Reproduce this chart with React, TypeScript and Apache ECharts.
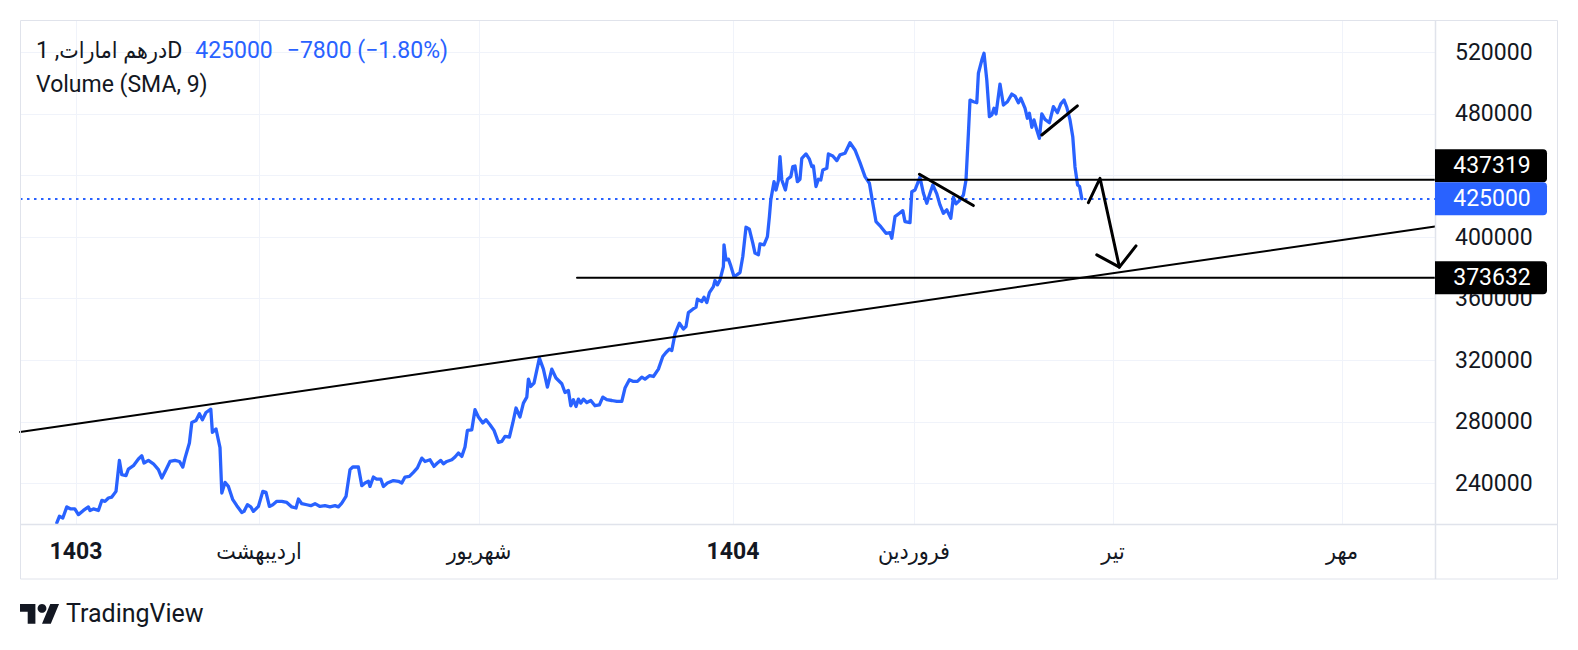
import React, { useEffect, useRef } from "react";
import * as echarts from "echarts";

const FONT = 'Roboto, "DejaVu Sans Condensed", "DejaVu Sans", sans-serif';
const TEXT = "#131722";
const BLUE = "#2962FF";
const BORDER = "#e0e3eb";
const GRID = "#f0f3fa";

const symbolTitle = "درهم امارات, 1D";
const indicatorTitle = "Volume (SMA, 9)";
const lastPrice = 425000;
const priceChange = -7800;
const priceChangePct = -1.8;

const yTicks = [240000, 280000, 320000, 360000, 400000, 440000, 480000, 520000];
const yMin = 213700;
const yMax = 541000;
const xMin = 0;
const xMax = 707.5;
const xTickBars = [28, 119.5, 229.5, 356.5, 447, 546.5, 661];
const xTickLabels = ["1403", "اردیبهشت", "شهریور", "1404", "فروردین", "تیر", "مهر"];
const yearLabels = ["1403", "1404"];

// [bar index, price]
const priceSeries: [number, number][] = [
  [18.4, 214400], [19.7, 218700], [21.4, 217600], [23.4, 224800], [25.4, 223500], [27.4, 223500], [29.2, 219800], [31.7, 222500],
  [34.2, 224800], [35, 222500], [36.7, 223500], [39.2, 222500], [40.9, 229000], [42.5, 228400], [44.2, 230600], [45.9, 231200],
  [48, 234900], [49.7, 255000], [50.9, 245700], [53, 245100], [54.2, 249400], [56.7, 251600], [59.2, 255900], [60.9, 258000],
  [62, 253300], [64.2, 255000], [66.7, 252800], [69.2, 249000], [70.9, 243600], [73, 249000], [75, 254300], [77.5, 255000],
  [79.7, 254300], [81.4, 250700], [82.5, 256500], [84.7, 266300], [85.9, 279600], [88, 280900], [89.7, 285300], [91.2, 281400],
  [93, 286100], [95.4, 288300], [96.2, 273200], [98, 275400], [100, 263300], [100.9, 233800], [102.5, 240700], [104.2, 238100],
  [106.4, 229500], [108.4, 225600], [110.9, 221200], [112, 221900], [113.7, 226200], [115.4, 224800], [116.7, 221900], [119.2, 225100],
  [121.4, 234900], [123, 234200], [124.7, 225100], [126.4, 226200], [128.4, 228400], [130.9, 228400], [133.4, 227700], [135.9, 224800],
  [138, 224100], [139.2, 229900], [140.9, 226900], [143.4, 226200], [145.4, 225600], [147.5, 226900], [150, 225100], [152.5, 225600],
  [155, 224800], [157.5, 225600], [159.2, 224800], [160.9, 227300], [163, 231600], [165, 249000], [166.4, 250700], [169.2, 250700],
  [170.9, 238600], [172.5, 240300], [174.2, 241400], [175, 238100], [176.7, 244200], [178.3, 242900], [180.4, 242900], [181.7, 238100],
  [183.7, 240300], [186.7, 241900], [189.2, 241400], [190.9, 240300], [192.5, 244200], [194.7, 244600], [196.7, 247200], [198.7, 250100],
  [200.9, 256500], [202.5, 254300], [205, 255400], [207, 251100], [208.7, 253300], [210.4, 255000], [211.7, 252800], [213.4, 254300],
  [215.9, 255400], [217.5, 257200], [219.2, 259800], [220.9, 257600], [222.5, 263700], [223.7, 274500], [225.9, 274900], [227.5, 287900],
  [229.2, 283200], [231.4, 279300], [233, 281400], [235, 278200], [237, 274500], [239.2, 266700], [240.9, 267300], [242.5, 270600],
  [244.7, 270200], [246.4, 279300], [248, 289000], [250, 283200], [251.7, 292200], [253.4, 296100], [254.2, 307800], [255.4, 303000],
  [257, 305200], [259.7, 321400], [261.7, 314300], [263.7, 302600], [265.9, 314300], [268, 308500], [270.9, 304800], [272.5, 299100],
  [274.2, 300400], [275.4, 290500], [276.7, 294400], [278, 290000], [279.2, 294800], [280.4, 292200], [281.7, 294800], [283.4, 292600],
  [285.4, 293900], [287.5, 290500], [289.7, 291100], [291.4, 296100], [293.4, 294400], [295.9, 293900], [298.4, 293300], [300.9, 293300],
  [302.5, 302000], [304.7, 307400], [306.7, 306300], [308.7, 306300], [310.9, 309100], [312.5, 307800], [314.7, 310000], [316.7, 309500],
  [319.2, 314300], [321.4, 322500], [323, 325100], [324.7, 327300], [325.9, 326400], [327.5, 337200], [329.7, 344100], [331.7, 340300],
  [333, 341900], [334.2, 351000], [336.4, 353200], [338, 354500], [338.7, 359700], [340.9, 358200], [342, 361000], [343.4, 357500],
  [344.7, 364000], [346.7, 367900], [347.5, 371800], [348.7, 369000], [350, 372200], [351.7, 380900], [352, 395000], [353, 385200],
  [354.2, 385700], [355.4, 381300], [357, 374400], [358.4, 375500], [360, 377000], [361.4, 387400], [363, 406400], [364.7, 405100],
  [366.4, 396100], [367.5, 389600], [369.2, 388500], [370, 395600], [372, 395000], [373.7, 400300], [374.7, 413300], [375.4, 424200],
  [377, 436000], [378, 430600], [379.2, 436700], [380, 452300], [380.9, 437100], [382.7, 430600], [383.7, 437600], [385.4, 439300],
  [386.4, 445800], [387.5, 446200], [388.7, 436000], [390, 437600], [390.9, 451200], [393, 454000], [394.7, 450600], [395.9, 445800],
  [396.7, 446200], [398, 432800], [399.2, 437600], [400.4, 437100], [401.4, 443600], [403.4, 444700], [404.2, 454000], [406.4, 452700],
  [408.4, 449700], [410, 453400], [412.5, 454500], [415, 461300], [417.5, 456600], [420, 448400], [422.5, 439300], [424.7, 435000],
  [426.4, 422000], [428, 410100], [430.4, 406800], [433, 402500], [435, 402900], [435.9, 399300], [437.5, 413300], [439.7, 415500],
  [441.4, 417200], [442.5, 410100], [445, 409400], [445.9, 429500], [447.5, 430600], [450, 438900], [451.7, 428500], [453.4, 422000],
  [455, 428500], [456.4, 433900], [458.4, 428100], [460, 420900], [461.7, 415500], [463.4, 417700], [465.4, 412300], [466.7, 425900],
  [468, 421600], [469.7, 423700], [471.7, 427400], [473, 437100], [474.2, 467400], [475, 489000], [476.7, 487900], [478.4, 487300],
  [479.2, 506400], [480.9, 515000], [482, 519400], [483.4, 502000], [484.7, 478200], [485.9, 479300], [487, 483700], [488, 480000],
  [490, 499400], [491.7, 485800], [493.7, 487900], [495.9, 492900], [497.5, 491600], [499.2, 487300], [500.4, 490200], [502.5, 483700],
  [503.7, 477200], [504.7, 480400], [505.9, 471300], [507, 476100], [508.4, 469600], [509.7, 464200], [510.9, 480000], [512.5, 476500],
  [514.7, 474300], [516.7, 484700], [518.7, 480800], [520.4, 486500], [522, 489000], [523.4, 484300], [525, 476100], [526.4, 465000],
  [527.5, 445600], [528.8, 433900], [529.8, 432800], [530.9, 425000],
];

// drawings (bar index, price)
const trendLine: [number, number][] = [[0, 273500], [707.5, 406900]];
const levelHigh = 437319;
const levelHighFrom = 424;
const levelLow = 373632;
const levelLowFrom = 278.5;
const wedgeDown: [number, number][] = [[449.7, 440800], [476.7, 420500]];
const wedgeUp: [number, number][] = [[510.9, 466300], [528.7, 485200]];
const arrowShaft: [number, number][] = [[534.2, 422400], [540, 438200], [549.7, 380500]];
const arrowHead: [number, number][] = [[538.4, 388500], [549.7, 380500], [558, 394300]];

const TV_LOGO = "M14 22H7V11H0V4h14v18zM28 22h-8l7.5-18h8L28 22z";
echarts.graphic.registerShape("tvlogo", echarts.graphic.extendPath(TV_LOGO, {}) as any);

function drawing(data: [number, number][], width: number) {
  return {
    type: "line",
    data,
    showSymbol: false,
    symbol: "none",
    silent: true,
    z: 5,
    lineStyle: { color: "#000000", width, cap: "round", join: "round" },
  };
}

export default function App() {
  const ref = useRef<HTMLDivElement>(null);
  useEffect(() => {
    if (!ref.current) return;
    const chart = echarts.init(ref.current, null, { renderer: "svg" });
    const nearestLabel = (v: number) => {
      let best = 0;
      let bd = Infinity;
      xTickBars.forEach((b, i) => {
        const d = Math.abs(b - v);
        if (d < bd) { bd = d; best = i; }
      });
      return xTickLabels[best];
    };
    const yAxisLabel = (values: number[]) => ({
      customValues: values,
      hideOverlap: false,
      margin: 20,
      fontSize: 23,
      color: TEXT,
      fontFamily: FONT,
      formatter: (v: number) => String(v),
    });
    chart.setOption({
      animation: false,
      grid: { left: 20, top: 20, width: 1415, height: 504, show: false },
      xAxis: {
        type: "value",
        min: xMin,
        max: xMax,
        axisLine: { show: false },
        axisTick: { show: false, customValues: xTickBars },
        splitLine: { show: true, lineStyle: { color: GRID, width: 1 } },
        axisLabel: {
          customValues: xTickBars,
          hideOverlap: false,
          margin: 16,
          formatter: (v: number) => {
            const t = nearestLabel(v);
            return yearLabels.includes(t) ? `{y|${t}}` : `{m|${t}}`;
          },
          rich: {
            y: { fontSize: 23, fontWeight: "bold", color: TEXT, fontFamily: FONT },
            m: { fontSize: 23, color: TEXT, fontFamily: FONT },
          },
        },
      },
      yAxis: {
        type: "value",
        position: "right",
        min: yMin,
        max: yMax,
        axisLine: { show: false },
        axisTick: { show: false, customValues: yTicks },
        splitLine: { show: true, lineStyle: { color: GRID, width: 1 } },
        axisLabel: yAxisLabel(yTicks),
      },
      series: [
        {
          type: "line",
          data: priceSeries,
          showSymbol: false,
          symbol: "none",
          silent: true,
          z: 3,
          lineStyle: { color: BLUE, width: 3.3, join: "round", cap: "round" },
          markLine: {
            silent: true,
            symbol: ["none", "none"],
            label: { show: false },
            lineStyle: { color: BLUE, width: 2, type: [2.5, 4.5] },
            data: [{ yAxis: lastPrice }],
          },
        },
        drawing(trendLine, 2),
        drawing([[levelHighFrom, levelHigh], [xMax, levelHigh]], 2),
        drawing([[levelLowFrom, levelLow], [xMax, levelLow]], 2),
        drawing(wedgeDown, 3),
        drawing(wedgeUp, 3),
        drawing(arrowShaft, 3),
        drawing(arrowHead, 3),
      ],
    });

    const toY = (v: number) => chart.convertToPixel({ yAxisIndex: 0 }, v) as number;
    const boxH = 33;
    const boxX = 1435;
    const boxW = 112;
    const yLast = toY(lastPrice);
    let yHigh = toY(levelHigh);
    if (yHigh + boxH / 2 > yLast - boxH / 2) yHigh = yLast - boxH;
    let yLow = toY(levelLow);
    if (yLow - boxH / 2 < yLast + boxH / 2) yLow = yLast + boxH;
    const boxCenters = [yHigh, yLast, yLow];
    // tick labels that sit fully behind a price box are not drawn (as in the reference)
    const visibleTicks = yTicks.filter((t) => {
      const ty = toY(t);
      return !boxCenters.some((c) => Math.abs(ty - c) < boxH / 2 - 3);
    });

    const priceBox = (cy: number, value: number, fill: string) => ({
      type: "group",
      z: 100,
      children: [
        {
          type: "rect",
          z: 100,
          shape: { x: boxX, y: cy - boxH / 2, width: boxW, height: boxH, r: [0, 4, 4, 0] },
          style: { fill },
        },
        {
          type: "text",
          z: 101,
          x: boxX + boxW / 2 + 1,
          y: cy,
          style: { text: String(value), fill: "#ffffff", fontSize: 23, fontFamily: FONT, align: "center", verticalAlign: "middle" },
        },
      ],
    });
    const sign = priceChange < 0 ? "\u2212" : "+";
    const changeText = `${sign}${Math.abs(priceChange)} (${sign}${Math.abs(priceChangePct).toFixed(2)}%)`;

    chart.setOption({
      yAxis: { axisLabel: yAxisLabel(visibleTicks) },
      graphic: [
        { type: "rect", z: 50, shape: { x: 20.5, y: 20.5, width: 1537, height: 558.5 }, style: { fill: "none", stroke: BORDER, lineWidth: 1 } },
        { type: "line", z: 50, shape: { x1: 1435.5, y1: 20, x2: 1435.5, y2: 579 }, style: { stroke: BORDER, lineWidth: 1.5 } },
        { type: "line", z: 50, shape: { x1: 20, y1: 524.5, x2: 1558, y2: 524.5 }, style: { stroke: BORDER, lineWidth: 1.5 } },
        {
          type: "text",
          z: 60,
          x: 36,
          y: 50,
          style: {
            text: `{a|${symbolTitle}}{b|${lastPrice}}{c|${changeText}}`,
            verticalAlign: "middle",
            rich: {
              a: { fill: TEXT, fontSize: 23, fontFamily: FONT },
              b: { fill: BLUE, fontSize: 23, fontFamily: FONT, padding: [0, 0, 0, 13] },
              c: { fill: BLUE, fontSize: 23, fontFamily: FONT, padding: [0, 0, 0, 14] },
            },
          },
        },
        { type: "text", z: 60, x: 36, y: 84, style: { text: indicatorTitle, fill: TEXT, fontSize: 23, fontFamily: FONT, verticalAlign: "middle" } },
        priceBox(yHigh, levelHigh, "#000000"),
        priceBox(yLast, lastPrice, BLUE),
        priceBox(yLow, levelLow, "#000000"),
        {
          type: "group",
          x: 20,
          y: 599.6,
          scaleX: 1.1,
          scaleY: 1.1,
          children: [
            { type: "tvlogo", style: { fill: TEXT } },
            { type: "circle", shape: { cx: 20, cy: 8, r: 4 }, style: { fill: TEXT } },
          ],
        },
        { type: "text", x: 66, y: 613, style: { text: "TradingView", fill: TEXT, fontSize: 25, fontFamily: FONT, verticalAlign: "middle" } },
      ],
    });

    return () => chart.dispose();
  }, []);
  return <div ref={ref} style={{ position: "absolute", left: 0, top: 0, width: 1578, height: 650 }} />;
}
